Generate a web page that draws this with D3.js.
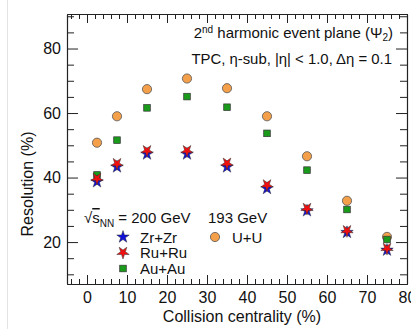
<!DOCTYPE html>
<html>
<head>
<meta charset="utf-8">
<script src="https://cdn.jsdelivr.net/npm/d3@7.9.0/dist/d3.min.js"></script>
<style>
  body { margin: 0; background: #fff; }
  svg { display: block; font-family: "Liberation Sans", Arial, sans-serif; }
</style>
</head>
<body>
<svg id="chart" width="411" height="329"></svg>
<script>
// centrality bin centres (%)
const centrality = [2.5, 7.5, 15, 25, 35, 45, 55, 65, 75];
// event plane resolution (%)
const zrzr = [38.7, 43.3, 47.3, 47.3, 43.3, 36.6, 29.7, 23.0, 17.5];
const ruru = [39.7, 44.3, 48.3, 48.3, 44.4, 37.7, 30.4, 23.5, 18.0];
const auau = [40.8, 51.6, 61.6, 65.1, 61.8, 53.7, 42.3, 30.1, 20.8];
const uu   = [50.8, 59.0, 67.4, 70.7, 67.7, 59.0, 46.6, 32.8, 21.6];
const xTicks = [0, 10, 20, 30, 40, 50, 60, 70, 80];
const yTicks = [20, 40, 60, 80];

const svg = d3.select('#chart');
const plotLeft = 67, plotRight = 407, plotTop = 14, plotBottom = 284;

const x = d3.scaleLinear().domain([-5, 80]).range([plotLeft, plotRight]);
const y = d3.scaleLinear().domain([7, 90.7]).range([plotBottom, plotTop]);

// faint screenshot border on the left
svg.append('line').attr('x1', 7.5).attr('x2', 7.5).attr('y1', 0).attr('y2', 329)
  .attr('stroke', '#e4e4e4');

//frame ticks: major every 10 (x) / 20 (y), minor every 2 (x) / 5 (y)
const xMinor = d3.range(-4, 80, 2).filter(v => v % 10 !== 0);
const yMinor = d3.range(10, 91, 5).filter(v => v % 20 !== 0);

function addAxis(axis, transform) {
  const g = svg.append('g').attr('transform', transform).call(axis);
  g.select('.domain').attr('stroke', '#222').attr('stroke-width', 1.1);
  g.selectAll('.tick line').attr('stroke', '#222');
  g.selectAll('text').attr('font-size', 16).attr('fill', '#111');
  return g;
}

// bottom
addAxis(d3.axisBottom(x).tickValues(xMinor).tickSize(-5).tickFormat('').tickSizeOuter(0), `translate(0,${plotBottom})`);
addAxis(d3.axisBottom(x).tickValues(xTicks).tickSize(-9).tickPadding(8).tickSizeOuter(0), `translate(0,${plotBottom})`);
// top
addAxis(d3.axisTop(x).tickValues(xMinor).tickSize(-5).tickFormat('').tickSizeOuter(0), `translate(0,${plotTop})`);
addAxis(d3.axisTop(x).tickValues(xTicks).tickSize(-9).tickFormat('').tickSizeOuter(0), `translate(0,${plotTop})`);
// left
addAxis(d3.axisLeft(y).tickValues(yMinor).tickSize(-7).tickFormat('').tickSizeOuter(0), `translate(${plotLeft},0)`);
addAxis(d3.axisLeft(y).tickValues(yTicks).tickSize(-11).tickPadding(6).tickSizeOuter(0), `translate(${plotLeft},0)`);
// right
addAxis(d3.axisRight(y).tickValues(yMinor).tickSize(-7).tickFormat('').tickSizeOuter(0), `translate(${plotRight},0)`);
addAxis(d3.axisRight(y).tickValues(yTicks).tickSize(-11).tickFormat('').tickSizeOuter(0), `translate(${plotRight},0)`);

// axis titles
svg.append('text').attr('x', 242).attr('y', 322).attr('text-anchor', 'middle')
  .attr('font-size', 16).attr('fill', '#111').text('Collision centrality (%)');
svg.append('text').attr('transform', 'translate(33,184) rotate(-90)').attr('text-anchor', 'middle')
  .attr('font-size', 16).attr('fill', '#111').text('Resolution (%)');

// header text
const h1 = svg.append('text').attr('x', 393).attr('y', 38).attr('text-anchor', 'end')
  .attr('font-size', 15).attr('fill', '#111');
h1.append('tspan').text('2');
h1.append('tspan').attr('dy', -5).attr('font-size', 10).text('nd');
h1.append('tspan').attr('dy', 5).text(' harmonic event plane (Ψ');
h1.append('tspan').attr('dy', 3).attr('font-size', 10).text('2');
h1.append('tspan').attr('dy', -3).text(')');
svg.append('text').attr('x', 392).attr('y', 64).attr('text-anchor', 'end')
  .attr('font-size', 14.9).attr('fill', '#111').text('TPC, η-sub, |η| < 1.0, Δη = 0.1');

//marker symbols
const starPath = d3.symbol().type(d3.symbolStar).size(48)();
function drawSeries(vals, kind, fill) {
  centrality.forEach((c, i) => drawMarker(x(c), y(vals[i]), kind, fill));
}
function drawMarker(px, py, kind, fill) {
  if (kind === 'circle') {
    svg.append('circle').attr('cx', px).attr('cy', py).attr('r', 4.6)
      .attr('fill', fill).attr('stroke', '#555').attr('stroke-width', 0.8);
  } else if (kind === 'square') {
    svg.append('rect').attr('x', px - 3.3).attr('y', py - 3.3).attr('width', 6.6).attr('height', 6.6)
      .attr('fill', fill).attr('stroke', '#333').attr('stroke-width', 0.7);
  } else {
    const rot = kind === 'starDown' ? 180 : 0;
    svg.append('path').attr('d', starPath)
      .attr('transform', `translate(${px},${py}) rotate(${rot})`)
      .attr('fill', fill).attr('stroke', '#333').attr('stroke-width', 0.5);
  }
}

drawSeries(uu, 'circle', '#f4a04a');
drawSeries(auau, 'square', '#1a9a1a');
drawSeries(zrzr, 'starUp', '#1010d8');
drawSeries(ruru, 'starDown', '#ee1010');

// legend
const lg = svg.append('text').attr('x', 84).attr('y', 223).attr('font-size', 15).attr('fill', '#111');
lg.append('tspan').text('√');
lg.append('tspan').attr('text-decoration', 'overline').text('s');
lg.append('tspan').attr('dy', 4).attr('font-size', 10).text('NN');
lg.append('tspan').attr('dy', -4).text(' = 200 GeV');
svg.append('text').attr('x', 208).attr('y', 223).attr('font-size', 15).attr('fill', '#111').text('193 GeV');

const legendItems = [
  { label: 'Zr+Zr', kind: 'starUp', fill: '#1010d8', lx: 123, ly: 237 },
  { label: 'Ru+Ru', kind: 'starDown', fill: '#ee1010', lx: 123, ly: 252.5 },
  { label: 'Au+Au', kind: 'square', fill: '#1a9a1a', lx: 123, ly: 268.5 },
  { label: 'U+U', kind: 'circle', fill: '#f4a04a', lx: 215, ly: 237 }
];
legendItems.forEach(d => {
  drawMarker(d.lx, d.ly, d.kind, d.fill);
  svg.append('text').attr('x', d.lx + 17).attr('y', d.ly + 5.5).attr('font-size', 15)
    .attr('fill', '#111').text(d.label);
});
</script>
</body>
</html>
